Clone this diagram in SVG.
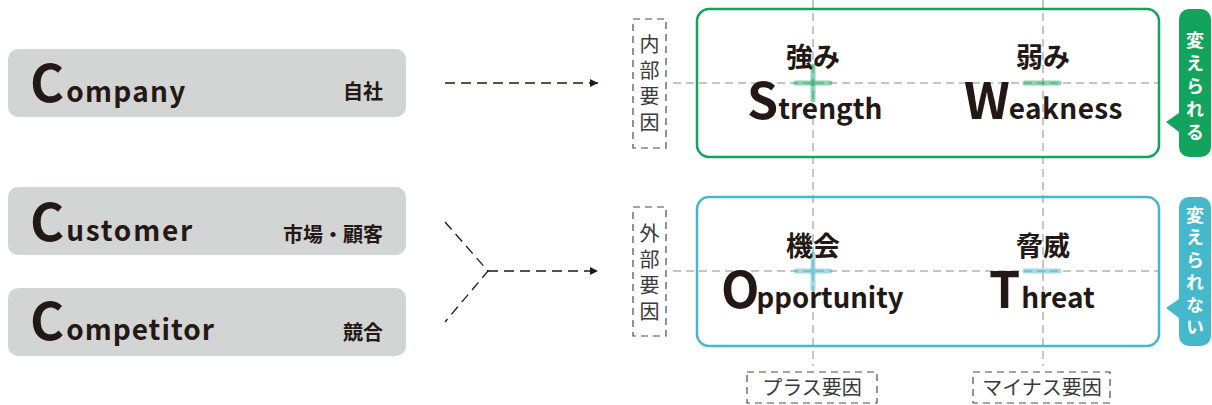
<svg xmlns="http://www.w3.org/2000/svg" width="1212" height="405" viewBox="0 0 1212 405">
<defs>
<style>
.cbox{fill:#d3d4d4;}
.t{font-family:"Noto Sans CJK JP","Noto Sans",sans-serif;fill:#231815;}
.cap{font-size:52px;font-weight:700;}
.low{font-size:28px;font-weight:700;letter-spacing:2px;}
.jp{font-size:20px;font-weight:700;}
.big{font-size:50px;font-weight:700;}
.sm{font-size:28px;font-weight:700;}
.hd{font-size:27px;font-weight:700;text-anchor:middle;}
.lab{font-size:20px;font-weight:400;fill:#3a3a3a;text-anchor:middle;}
.vlab{font-family:"Noto Sans CJK JP",sans-serif;font-size:20px;font-weight:400;fill:#3a3a3a;writing-mode:vertical-rl;letter-spacing:6px;}
.tag{font-family:"Noto Sans CJK JP",sans-serif;font-size:18px;font-weight:700;fill:#fff;writing-mode:vertical-rl;letter-spacing:5px;}
.dash{fill:none;stroke:#231815;stroke-width:1.3;stroke-dasharray:10 6;}
.grid{fill:none;stroke:#8c8c8c;stroke-width:1;stroke-dasharray:8 5;}
.lbox{fill:none;stroke:#4a4a4a;stroke-width:1.2;stroke-dasharray:7 5;}
.pg{stroke:#1aaa64;stroke-opacity:0.5;stroke-width:5;stroke-linecap:round;fill:none;}
.pb{stroke:#45b8cc;stroke-opacity:0.5;stroke-width:5;stroke-linecap:round;fill:none;}
</style>
<marker id="ah" viewBox="0 0 10 10" refX="10" refY="5" markerWidth="8" markerHeight="8" markerUnits="userSpaceOnUse" orient="auto">
<path d="M0,0 L10,5 L0,10 Z" fill="#231815"/>
</marker>
</defs>

<g id="company">
<rect class="cbox" x="8" y="49" width="398" height="68" rx="10"/>
<text class="t" x="30" y="102"><tspan class="cap">C</tspan><tspan class="low" dx="2" style="letter-spacing:1.3px">ompany</tspan></text>
<text class="t jp" x="383" y="99" text-anchor="end">自社</text>
</g>
<g id="customer">
<rect class="cbox" x="8" y="187" width="398" height="68" rx="10"/>
<text class="t" x="30" y="241"><tspan class="cap">C</tspan><tspan class="low" dx="2" style="letter-spacing:1.8px">ustomer</tspan></text>
<text class="t jp" x="383" y="242" text-anchor="end">市場・顧客</text>
</g>
<g id="competitor">
<rect class="cbox" x="8" y="288" width="398" height="68" rx="10"/>
<text class="t" x="30" y="340"><tspan class="cap">C</tspan><tspan class="low" dx="2" style="letter-spacing:1px">ompetitor</tspan></text>
<text class="t jp" x="383" y="340" text-anchor="end">競合</text>
</g>

<g id="connectors">
<line class="dash" x1="445" y1="83" x2="598" y2="83" marker-end="url(#ah)"/>
<polyline class="dash" points="445,222 488,271 445,322"/>
<line class="dash" x1="488" y1="271" x2="598" y2="271" marker-end="url(#ah)"/>
</g>

<g id="grid">
<line class="grid" x1="813" y1="0" x2="813" y2="366"/>
<line class="grid" x1="1043" y1="0" x2="1043" y2="366"/>
<line class="grid" x1="673" y1="83" x2="1159" y2="83"/>
<line class="grid" x1="673" y1="271" x2="1159" y2="271"/>
</g>

<g id="internal-label">
<rect class="lbox" x="633" y="19" width="33" height="129"/>
<text class="vlab" x="649.5" y="34">内部要因</text>
</g>
<g id="external-label">
<rect class="lbox" x="633" y="207" width="33" height="129"/>
<text class="vlab" x="649.5" y="223">外部要因</text>
</g>

<g id="internal-box">
<rect x="697" y="9" width="462" height="148" rx="12" fill="none" stroke="#12a35c" stroke-width="2.5"/>
</g>
<g id="external-box">
<rect x="697" y="197" width="462" height="149" rx="12" fill="none" stroke="#45b8cc" stroke-width="2.5"/>
</g>

<g id="marks">
<line class="pg" x1="796" y1="83" x2="830" y2="83"/>
<line class="pg" x1="813" y1="66" x2="813" y2="100"/>
<line class="pg" x1="1025" y1="83" x2="1059" y2="83"/>
<line class="pb" x1="796" y1="271" x2="830" y2="271"/>
<line class="pb" x1="813" y1="254" x2="813" y2="289"/>
<line class="pb" x1="1025" y1="271" x2="1059" y2="271"/>
</g>

<g id="strength">
<text class="t hd" x="813" y="67">強み</text>
<text class="t" x="747" y="119"><tspan class="big">S</tspan><tspan class="sm" dx="0">trength</tspan></text>
</g>
<g id="weakness">
<text class="t hd" x="1043" y="67">弱み</text>
<text class="t" x="964" y="119"><tspan class="big">W</tspan><tspan class="sm" dx="-1" style="letter-spacing:0.4px">eakness</tspan></text>
</g>
<g id="opportunity">
<text class="t hd" x="813" y="256">機会</text>
<text class="t" x="721" y="308"><tspan class="big">O</tspan><tspan class="sm" dx="-3" style="font-size:27.5px">pportunity</tspan></text>
</g>
<g id="threat">
<text class="t hd" x="1043" y="256">脅威</text>
<text class="t" x="989" y="308"><tspan class="big">T</tspan><tspan class="sm" dx="1">hreat</tspan></text>
</g>

<g id="tag-changeable">
<path d="M1189,9 H1201 A10,10 0 0 1 1211,19 V147 A10,10 0 0 1 1201,157 H1189 A10,10 0 0 1 1179,147 V132 L1166,122 L1179,113 V19 A10,10 0 0 1 1189,9 Z" fill="#12a35c"/>
<text class="tag" x="1195" y="31">変えられる</text>
</g>
<g id="tag-unchangeable">
<path d="M1189,197 H1201 A10,10 0 0 1 1211,207 V336 A10,10 0 0 1 1201,346 H1189 A10,10 0 0 1 1179,336 V318 L1166,308 L1179,299 V207 A10,10 0 0 1 1189,197 Z" fill="#45b8cc"/>
<text class="tag" x="1195" y="206" style="letter-spacing:4.5px">変えられない</text>
</g>

<g id="plus-label">
<rect class="lbox" x="747" y="372" width="130" height="31"/>
<text class="t lab" x="812" y="395">プラス要因</text>
</g>
<g id="minus-label">
<rect class="lbox" x="973" y="372" width="137" height="31"/>
<text class="t lab" x="1042" y="395">マイナス要因</text>
</g>
</svg>
